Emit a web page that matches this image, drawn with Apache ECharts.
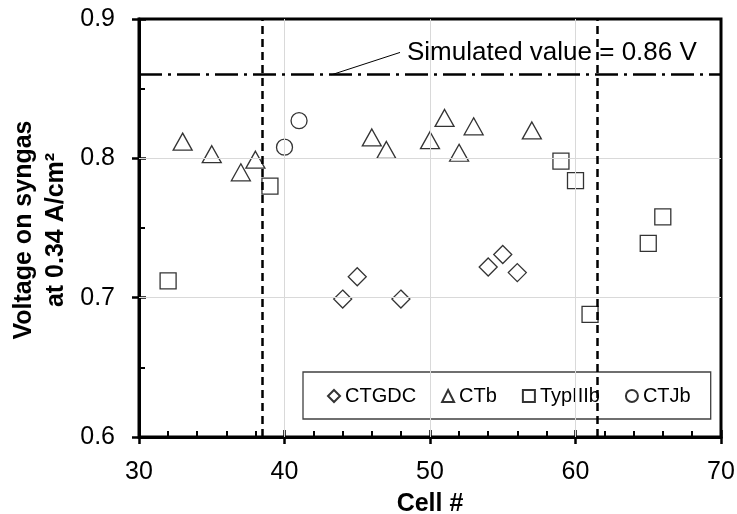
<!DOCTYPE html>
<html>
<head>
<meta charset="utf-8">
<script src="https://cdn.jsdelivr.net/npm/echarts@6/dist/echarts.min.js"></script>
<style>
  html, body { margin: 0; padding: 0; background: #fff; }
  #chart { width: 737px; height: 514px; }
</style>
</head>
<body>
<div id="chart"></div>
<script>
// Cell voltage on syngas at 0.34 A/cm² by cell number, grouped by cell type
const ctgdcCells   = [44, 45, 48, 54, 55, 56];
const ctgdcVolts   = [0.699, 0.715, 0.699, 0.722, 0.731, 0.718];

const ctbCells     = [33, 35, 37, 38, 46, 47, 50, 51, 52, 53, 57];
const ctbVolts     = [0.812, 0.803, 0.790, 0.799, 0.815, 0.806, 0.813, 0.829, 0.804, 0.823, 0.820];

const typ3bCells   = [32, 39, 59, 60, 61, 65, 66];
const typ3bVolts   = [0.712, 0.780, 0.798, 0.784, 0.688, 0.739, 0.758];

const ctjbCells    = [40, 41];
const ctjbVolts    = [0.808, 0.827];

// Inner gridline positions
const xGridValues = [40, 50, 60];
const yGridValues = [0.7, 0.8];

// Reference lines
const simulatedValue = 0.86;
const boundaryCells  = [38.5, 61.5];

const seriesNames = ['CTGDC', 'CTb', 'TypIIIb', 'CTJb'];

const FONT = '"Liberation Sans", Arial, sans-serif';

function pairs(xs, ys) { return xs.map((x, i) => [x, ys[i]]); }

const hollow = { color: 'rgba(255,255,255,0)', borderColor: '#000', borderWidth: 1.3 };
const gridStyle = { color: '#d9d9d9', width: 1, type: 'solid' };

const chart = echarts.init(document.getElementById('chart'), null, { renderer: 'canvas' });

chart.setOption({
  animation: false,
  backgroundColor: '#fff',
  grid: {
    left: 139, right: 16, top: 19, bottom: 77,
    outerBoundsMode: 'none', containLabel: false,
    show: true, borderColor: '#000', borderWidth: 3, backgroundColor: 'transparent'
  },
  xAxis: [
    {
      type: 'value', min: 30, max: 70, interval: 10, position: 'bottom',
      axisLine: { show: true, lineStyle: { color: '#000', width: 3 } },
      axisTick: { show: true, inside: true, length: 7, lineStyle: { color: '#000', width: 2.5 } },
      minorTick: { show: true, splitNumber: 5, length: 6, lineStyle: { color: '#000', width: 2 } },
      splitLine: { show: false },
      axisLabel: { color: '#000', fontSize: 25, fontFamily: FONT, margin: 23 },
      name: 'Cell #', nameLocation: 'middle', nameGap: 55,
      nameTextStyle: { color: '#000', fontSize: 25, fontWeight: 'bold', fontFamily: FONT }
    },
    {
      type: 'value', min: 30, max: 70, interval: 10, position: 'bottom',
      axisLine: { show: false },
      axisTick: { show: true, inside: false, length: 7, lineStyle: { color: '#000', width: 2.5 } },
      axisLabel: { show: false },
      splitLine: { show: false }
    }
  ],
  yAxis: [
    {
      type: 'value', min: 0.6, max: 0.9, interval: 0.1, position: 'left',
      axisLine: { show: true, lineStyle: { color: '#000', width: 3 } },
      axisTick: { show: true, inside: true, length: 7, lineStyle: { color: '#000', width: 2.5 } },
      minorTick: { show: true, splitNumber: 2, length: 6, lineStyle: { color: '#000', width: 2 } },
      splitLine: { show: false },
      axisLabel: {
        color: '#000', fontSize: 25, fontFamily: FONT, margin: 24,
        formatter: v => v.toFixed(1)
      }
    },
    {
      type: 'value', min: 0.6, max: 0.9, interval: 0.1, position: 'left',
      axisLine: { show: false },
      axisTick: { show: true, inside: false, length: 7, lineStyle: { color: '#000', width: 2.5 } },
      axisLabel: { show: false },
      splitLine: { show: false }
    }
  ],
  legend: {
    data: seriesNames,
    left: 303, top: 372,
    orient: 'horizontal',
    padding: [14, 20, 13, 24],
    itemWidth: 12, itemHeight: 12, itemGap: 25,
    borderColor: '#404040', borderWidth: 1.3, backgroundColor: '#fff',
    textStyle: { color: '#000', fontSize: 20, fontFamily: FONT },
    selectedMode: false
  },
  graphic: [
    {
      type: 'text',
      x: 40, y: 230, rotation: Math.PI / 2,
      style: {
        text: 'Voltage on syngas\nat 0.34 A/cm²',
        font: 'bold 25px ' + FONT,
        fill: '#000',
        align: 'center', verticalAlign: 'middle',
        lineHeight: 32
      },
      z: 10
    },
    {
      type: 'text',
      left: 407, top: 40,
      style: {
        text: 'Simulated value = ' + simulatedValue.toFixed(2) + ' V',
        font: '26px ' + FONT,
        fill: '#000'
      },
      z: 10
    }
  ],
  series: [
    {
      name: 'gridlines', type: 'scatter', data: [], silent: true, z: 1,
      markLine: {
        silent: true, symbol: ['none', 'none'], label: { show: false }, animation: false,
        data: [
          ...xGridValues.map(v => ({ xAxis: v, lineStyle: gridStyle })),
          ...yGridValues.map(v => ({ yAxis: v, lineStyle: gridStyle }))
        ]
      }
    },
    {
      name: 'reference lines', type: 'scatter', data: [], silent: true, z: 2,
      markLine: {
        silent: true, symbol: ['none', 'none'], label: { show: false }, animation: false,
        data: [
          ...boundaryCells.map(c => ({
            xAxis: c, lineStyle: { color: '#000', width: 2.5, type: [8, 5] }
          })),
          {
            yAxis: simulatedValue,
            lineStyle: { color: '#000', width: 2.5, type: [23, 6, 3, 6] }
          },
          [
            { coord: [43.24, simulatedValue], lineStyle: { color: '#000', width: 1, type: 'solid' } },
            { coord: [47.94, 0.876] }
          ]
        ]
      }
    },
    {
      name: 'CTGDC', type: 'scatter', symbol: 'diamond', symbolSize: [18, 18],
      itemStyle: hollow, data: pairs(ctgdcCells, ctgdcVolts), z: 3
    },
    {
      name: 'CTb', type: 'scatter', symbol: 'triangle', symbolSize: [19, 17],
      itemStyle: hollow, data: pairs(ctbCells, ctbVolts), z: 3
    },
    {
      name: 'TypIIIb', type: 'scatter', symbol: 'rect', symbolSize: [16, 16],
      itemStyle: hollow, data: pairs(typ3bCells, typ3bVolts), z: 3
    },
    {
      name: 'CTJb', type: 'scatter', symbol: 'circle', symbolSize: [16, 16],
      itemStyle: hollow, data: pairs(ctjbCells, ctjbVolts), z: 3
    }
  ]
});
</script>
</body>
</html>
